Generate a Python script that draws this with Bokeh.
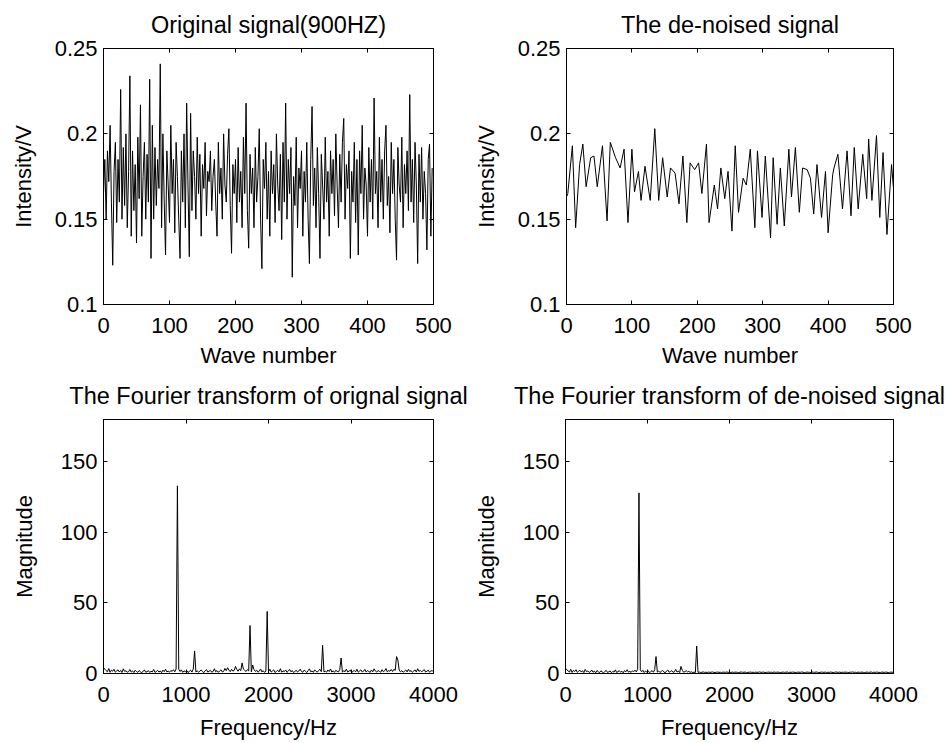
from bokeh.plotting import figure
from bokeh.layouts import column, row
from bokeh.models import Range1d, FixedTicker, LinearAxis, CustomLabelingPolicy
from bokeh.embed import file_html
from bokeh.resources import INLINE

# ---------------- DATA ----------------
# Original signal, sampled every 2 wave numbers (0..498)
wave_step = 2
original = [
    0.165, 0.185, 0.150, 0.190, 0.172, 0.205, 0.160, 0.123, 0.178, 0.195,
    0.148, 0.185, 0.160, 0.226, 0.150, 0.192, 0.158, 0.200, 0.145, 0.178,
    0.234, 0.140, 0.190, 0.155, 0.182, 0.136, 0.198, 0.162, 0.217, 0.140,
    0.175, 0.195, 0.150, 0.188, 0.160, 0.232, 0.127, 0.205, 0.150, 0.192,
    0.158, 0.185, 0.168, 0.241, 0.145, 0.200, 0.160, 0.129, 0.190, 0.170,
    0.148, 0.205, 0.165, 0.185, 0.142, 0.195, 0.175, 0.150, 0.127, 0.190,
    0.160, 0.200, 0.145, 0.218, 0.170, 0.128, 0.212, 0.155, 0.190, 0.175,
    0.150, 0.198, 0.165, 0.188, 0.140, 0.182, 0.168, 0.195, 0.152, 0.178,
    0.172, 0.190, 0.155, 0.175, 0.185, 0.160, 0.140, 0.195, 0.165, 0.180,
    0.150, 0.200, 0.170, 0.160, 0.188, 0.203, 0.158, 0.130, 0.182, 0.165,
    0.185, 0.148, 0.192, 0.160, 0.178, 0.145, 0.198, 0.165, 0.218, 0.155,
    0.133, 0.188, 0.165, 0.180, 0.145, 0.192, 0.160, 0.175, 0.203, 0.150,
    0.121, 0.185, 0.168, 0.195, 0.150, 0.178, 0.140, 0.190, 0.165, 0.182,
    0.148, 0.200, 0.170, 0.155, 0.188, 0.138, 0.195, 0.160, 0.218, 0.150,
    0.185, 0.165, 0.192, 0.116, 0.175, 0.158, 0.198, 0.145, 0.180, 0.168,
    0.190, 0.140, 0.178, 0.160, 0.195, 0.150, 0.124, 0.185, 0.216, 0.158,
    0.180, 0.145, 0.192, 0.165, 0.127, 0.188, 0.170, 0.150, 0.198, 0.160,
    0.178, 0.140, 0.190, 0.165, 0.185, 0.152, 0.200, 0.170, 0.145, 0.188,
    0.160, 0.195, 0.209, 0.150, 0.182, 0.168, 0.190, 0.127, 0.178, 0.160,
    0.195, 0.148, 0.185, 0.129, 0.190, 0.165, 0.205, 0.150, 0.180, 0.170,
    0.140, 0.192, 0.160, 0.185, 0.150, 0.221, 0.165, 0.178, 0.145, 0.198,
    0.160, 0.185, 0.150, 0.190, 0.205, 0.158, 0.175, 0.142, 0.195, 0.165,
    0.185, 0.150, 0.126, 0.192, 0.170, 0.160, 0.198, 0.145, 0.182, 0.165,
    0.190, 0.155, 0.223, 0.160, 0.185, 0.148, 0.195, 0.170, 0.124, 0.188,
    0.160, 0.192, 0.150, 0.178, 0.165, 0.132, 0.185, 0.194, 0.140, 0.180,
]

# De-noised signal: turning points (wave number, value)
denoised_x = [
    0, 2, 9, 14, 20, 25, 30, 37, 42, 47, 55, 62, 67, 75, 82, 88, 94, 100, 104,
    110, 114, 120, 128, 135, 141, 147, 154, 159, 166, 172, 178, 184, 189, 196,
    202, 207, 214, 218, 226, 231, 236, 242, 247, 253, 258, 263, 270, 275, 281,
    288, 292, 299, 304, 312, 316, 322, 327, 333, 340, 344, 350, 356, 361, 368,
    373, 378, 383, 390, 396, 400, 407, 409, 415, 422, 429, 435, 440, 446, 453,
    459, 462, 467, 474, 479, 484, 490, 497, 500,
]
denoised_y = [
    0.163, 0.165, 0.193, 0.145, 0.182, 0.194, 0.169, 0.186, 0.187, 0.169, 0.193,
    0.149, 0.195, 0.186, 0.180, 0.191, 0.148, 0.191, 0.166, 0.178, 0.161, 0.181,
    0.161, 0.203, 0.161, 0.186, 0.163, 0.180, 0.177, 0.159, 0.187, 0.148, 0.183,
    0.179, 0.183, 0.165, 0.194, 0.148, 0.170, 0.156, 0.180, 0.162, 0.178, 0.143,
    0.193, 0.154, 0.174, 0.170, 0.191, 0.145, 0.190, 0.151, 0.187, 0.139, 0.186,
    0.147, 0.180, 0.146, 0.191, 0.163, 0.192, 0.154, 0.180, 0.179, 0.174, 0.153,
    0.182, 0.151, 0.178, 0.142, 0.176, 0.180, 0.188, 0.156, 0.190, 0.152, 0.192,
    0.156, 0.188, 0.162, 0.197, 0.161, 0.199, 0.151, 0.189, 0.141, 0.182, 0.168,
]

# Spectra: bins of 16 Hz, 0..4000 Hz
bin_hz = 16
orig_floor = [
    4.2, 3.1, 2.0, 1.2, 3.5, 0.8, 2.4, 1.6, 3.0, 0.9, 1.8, 2.6, 1.1, 2.2, 0.7, 3.3, 1.5, 2.0, 0.9, 1.3, 2.8, 1.0, 1.9, 0.6, 2.3,
    1.4, 0.8, 2.1, 1.2, 0.5, 1.7, 2.5, 0.9, 1.3, 2.0, 0.7, 1.6, 1.1, 2.9, 0.8, 1.4, 2.2, 1.0, 1.8, 0.6, 2.4, 1.3, 3.0, 1.1, 1.7,
    0.9, 2.1, 1.5, 2.7, 1.2, 3.2, 8.0, 3.0, 1.4, 2.6, 0.8, 1.9, 1.2, 2.2, 0.7, 1.5, 2.4, 1.0, 3.1, 1.6, 1.1, 2.0, 0.8, 1.7, 2.5,
    1.3, 0.6, 1.9, 2.8, 1.0, 1.6, 2.3, 0.9, 1.4, 3.4, 1.2, 2.1, 0.8, 1.8, 2.6, 1.1, 1.5, 3.6, 2.0, 4.1, 2.4, 1.3, 3.0, 1.7, 2.2,
    5.0, 2.8, 1.6, 3.3, 2.0, 7.5, 3.1, 2.2, 1.4, 2.7, 1.8, 2.5, 1.2, 6.0, 2.9, 1.5, 2.3, 0.9, 1.7, 3.2, 1.1, 2.0, 0.8, 1.6, 2.4,
    1.3, 3.0, 1.0, 1.8, 2.6, 0.7, 1.5, 2.2, 1.1, 3.4, 0.9, 1.9, 1.3, 2.5, 0.8, 1.7, 2.9, 1.2, 2.1, 0.6, 1.5, 2.3, 1.0, 1.8, 3.1,
    1.4, 0.9, 2.4, 1.6, 0.7, 2.0, 3.3, 1.2, 1.8, 0.8, 2.6, 1.5, 1.0, 2.2, 3.0, 1.3, 2.0, 1.1, 1.7, 0.9, 2.5, 1.4, 3.2, 1.0, 1.9,
    0.8, 2.3, 1.5, 1.1, 2.8, 1.6, 0.9, 2.0, 1.3, 3.1, 1.0, 1.7, 2.4, 0.7, 1.5, 2.2, 1.2, 3.0, 0.9, 1.8, 2.6, 1.1, 1.6, 2.9, 1.0,
    2.1, 1.4, 0.8, 2.5, 1.2, 3.3, 1.7, 1.0, 2.2, 1.5, 0.9, 2.7, 1.3, 1.9, 3.5, 1.1, 2.0, 1.6, 2.8, 1.4, 3.0, 2.2, 1.8, 9.5, 2.4,
    1.2, 2.0, 0.9, 1.6, 2.5, 1.1, 3.0, 1.4, 2.1, 0.8, 1.7, 2.6, 1.0, 3.4, 1.5, 2.2, 1.2, 1.9, 2.8, 1.0, 1.6, 2.4, 0.9, 1.8, 2.0,
    1.3,
]
orig_peak_hz = [896, 1104, 1776, 1984, 2656, 2880, 3552]
orig_peak_mag = [133, 16, 34, 44, 20, 11, 12]

den_floor = [
    3.8, 2.6, 1.8, 1.0, 3.0, 0.7, 2.2, 1.4, 2.7, 0.8, 1.6, 2.3, 1.0, 2.0, 0.6, 2.9, 1.3, 1.8, 0.8, 1.2, 2.5, 0.9, 1.7, 0.5, 2.1,
    1.2, 0.7, 1.9, 1.1, 0.5, 1.5, 2.2, 0.8, 1.2, 1.8, 0.6, 1.4, 1.0, 2.6, 0.7, 1.3, 2.0, 0.9, 1.6, 0.5, 2.1, 1.2, 2.7, 1.0, 1.5,
    0.8, 1.9, 1.3, 2.4, 1.1, 2.9, 7.0, 2.6, 1.2, 2.3, 0.7, 1.7, 1.1, 2.0, 0.6, 1.3, 2.1, 0.9, 2.8, 1.4, 1.0, 1.8, 0.7, 1.5, 2.2,
    1.1, 0.5, 1.7, 2.5, 0.9, 1.4, 2.0, 0.8, 1.2, 2.9, 1.0, 1.8, 0.7, 1.6, 2.3, 0.9, 1.3, 2.0, 1.1, 1.5, 0.8, 1.2, 0.6, 1.0, 0.7,
    0.9, 0.8, 1.0, 0.7, 0.9, 1.1, 0.8, 0.9, 0.7, 1.0, 0.8, 0.9, 1.1, 0.8, 0.7, 0.9, 1.0, 0.8, 0.9, 0.7, 1.0, 0.9, 0.8, 1.1, 0.8,
    0.9, 0.7, 1.0, 0.8, 0.9, 1.0, 0.8, 0.7, 0.9, 1.1, 0.8, 0.9, 1.0, 0.7, 0.8, 0.9, 1.0, 0.8, 0.9, 0.7, 1.0, 0.8, 0.9, 1.1, 0.8,
    0.9, 1.0, 0.7, 0.8, 0.9, 1.0, 0.8, 0.9, 0.7, 1.1, 0.8, 0.9, 1.0, 0.8, 0.7, 0.9, 1.0, 0.8, 0.9, 1.1, 0.7, 0.9, 0.8, 1.0, 0.9,
    0.8, 0.7, 1.0, 0.9, 0.8, 1.1, 0.9, 0.7, 0.8, 1.0, 0.9, 0.8, 0.7, 1.0, 0.9, 0.8, 1.1, 0.9, 0.7, 0.8, 1.0, 0.9, 0.8, 1.0, 0.7,
    0.9, 0.8, 1.0, 0.9, 0.7, 0.8, 1.1, 0.9, 0.8, 1.0, 0.7, 0.9, 0.8, 1.0, 0.9, 0.8, 0.7, 1.0, 0.9, 1.1, 0.8, 0.9, 0.7, 1.0, 0.8,
    0.9, 1.0, 0.8, 0.7, 0.9, 1.0, 0.8, 0.9, 1.1, 0.7, 0.9, 0.8, 1.0, 0.9, 0.8, 0.7, 1.0, 0.9, 0.8, 1.0, 0.9, 0.7, 0.8, 1.0, 0.9,
    0.8,
]
den_peak_hz = [896, 1104, 1408, 1600]
den_peak_mag = [128, 12, 5, 19.5]

sig_x_ticks = [0, 100, 200, 300, 400, 500]
sig_y_ticks = [0.1, 0.15, 0.2, 0.25]
sig_y_labels = ["0.1", "0.15", "0.2", "0.25"]
fft_x_ticks = [0, 1000, 2000, 3000, 4000]
fft_y_ticks = [0, 50, 100, 150]

titles = ["Original signal(900HZ)", "The de-noised signal",
          "The Fourier transform of orignal signal", "The Fourier transform of de-noised signal"]

# ---------------- BUILD ----------------
FONT = "Liberation Sans"
TICK_FS = "22px"
LABEL_FS = "22px"
TITLE_FS = "23.5px"


def spectrum(floor, peak_hz, peak_mag):
    mags = list(floor)
    for f, m in zip(peak_hz, peak_mag):
        mags[int(round(f / bin_hz))] = m
    freqs = [i * bin_hz for i in range(len(mags))]
    return freqs, mags


def style_axis(ax, ticker, show_labels=True, overrides=None):
    ax.ticker = FixedTicker(ticks=ticker)
    ax.minor_tick_line_color = None
    ax.major_tick_in = 4
    ax.major_tick_out = 0
    ax.major_tick_line_color = "black"
    ax.axis_line_color = "black"
    ax.major_label_text_font = FONT
    ax.major_label_text_color = "black"
    ax.axis_label_text_font = FONT
    ax.axis_label_text_font_style = "normal"
    ax.axis_label_text_color = "black"
    ax.axis_label_text_font_size = LABEL_FS
    if show_labels:
        ax.major_label_text_font_size = TICK_FS
    else:
        ax.major_label_text_font_size = "1px"
        ax.major_label_policy = CustomLabelingPolicy(code="return new Set()")
        ax.major_label_standoff = 0
    if overrides:
        ax.major_label_overrides = overrides


def make_fig(title, xr, yr, xt, yt, xlabel, ylabel, left, right, top, bottom,
             frame_w, frame_h, xlab_standoff, ylab_standoff, ylab_over=None):
    p = figure(width=left + frame_w + right, height=top + frame_h + bottom,
               x_range=Range1d(*xr), y_range=Range1d(*yr),
               output_backend="svg", toolbar_location=None,
               min_border_left=left, min_border_right=right,
               min_border_top=top, min_border_bottom=bottom)
    p.title.text = title
    p.title.align = "center"
    p.title.text_font = FONT
    p.title.text_font_size = TITLE_FS
    p.title.text_font_style = "normal"
    p.title.text_color = "black"
    p.title.text_line_height = 0.75
    p.title.standoff = 14
    p.grid.visible = False
    p.outline_line_color = "black"
    p.outline_line_width = 1
    p.outline_line_alpha = 1
    p.background_fill_color = "white"
    p.border_fill_color = "white"
    style_axis(p.xaxis[0], xt)
    style_axis(p.yaxis[0], yt, overrides=ylab_over)
    p.xaxis[0].axis_label = xlabel
    p.yaxis[0].axis_label = ylabel
    p.xaxis[0].major_label_standoff = 13
    p.yaxis[0].major_label_standoff = 6
    p.xaxis[0].axis_label_standoff = xlab_standoff
    p.yaxis[0].axis_label_standoff = ylab_standoff
    top_ax = LinearAxis()
    right_ax = LinearAxis()
    style_axis(top_ax, xt, show_labels=False)
    style_axis(right_ax, yt, show_labels=False)
    p.add_layout(top_ax, "above")
    p.add_layout(right_ax, "right")
    return p


ov = dict(zip(sig_y_ticks, sig_y_labels))
sig_x = [i * wave_step for i in range(len(original))]

p1 = make_fig(titles[0], (0, 500), (0.1, 0.25), sig_x_ticks, sig_y_ticks,
              "Wave number", "Intensity/V", 103, 37, 48, 68, 330, 256, 7, 16, ov)
p1.line(sig_x, original, line_color="black", line_width=1)

p2 = make_fig(titles[1], (0, 500), (0.1, 0.25), sig_x_ticks, sig_y_ticks,
              "Wave number", "Intensity/V", 94, 54, 48, 68, 329, 256, 7, 16, ov)
p2.line(denoised_x, denoised_y, line_color="black", line_width=1)

f1, m1 = spectrum(orig_floor, orig_peak_hz, orig_peak_mag)
p3 = make_fig(titles[2], (0, 4000), (0, 180), fft_x_ticks, fft_y_ticks,
              "Frequency/Hz", "Magnitude", 103, 37, 47, 69, 330, 254, 10, 21)
p3.line(f1, m1, line_color="black", line_width=1)

f2, m2 = spectrum(den_floor, den_peak_hz, den_peak_mag)
p4 = make_fig(titles[3], (0, 4000), (0, 180), fft_x_ticks, fft_y_ticks,
              "Frequency/Hz", "Magnitude", 94, 54, 47, 69, 329, 254, 10, 21)
p4.line(f2, m2, line_color="black", line_width=1)

layout = column(row(p1, p2, spacing=0), row(p3, p4, spacing=0), spacing=0)

open("out.html", "w").write(file_html(layout, INLINE))
